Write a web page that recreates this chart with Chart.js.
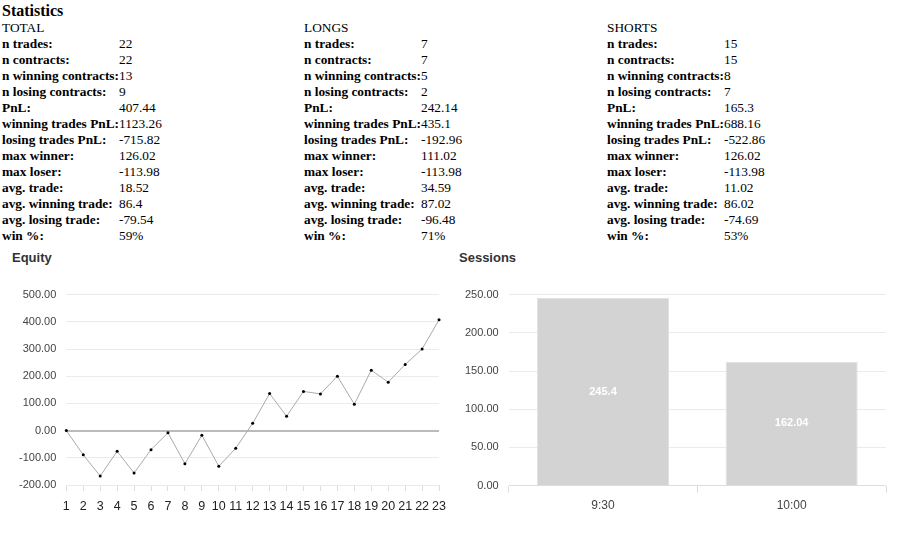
<!DOCTYPE html>
<html>
<head>
<meta charset="utf-8">
<script src="https://cdn.jsdelivr.net/npm/chart.js@4"></script>
<style>
  body { margin: 0; background: #fff; width: 917px; height: 556px; overflow: hidden; position: relative; }
  #statsTitle { position: absolute; left: 2px; top: 2px; font: bold 16px "Liberation Serif", serif; line-height: 18px; color: #000; }
  .col { position: absolute; top: 20px; font: 13.33px "Liberation Serif", serif; line-height: 16px; color: #000; }
  .col table { border-collapse: collapse; border-spacing: 0; }
  .col td { padding: 0; line-height: 16px; white-space: nowrap; }
  .col td.lbl { font-weight: bold; }
  .chartTitle { position: absolute; top: 250px; font: bold 13px "Liberation Sans", Arial, sans-serif; color: #333; line-height: 16px; }
  canvas { position: absolute; }
</style>
</head>
<body>
<div id="statsTitle">Statistics</div>
<div class="col" id="colTotal" style="left:2px"></div>
<div class="col" id="colLongs" style="left:304px"></div>
<div class="col" id="colShorts" style="left:607px"></div>

<div class="chartTitle" style="left:12px">Equity</div>
<div class="chartTitle" style="left:459px">Sessions</div>
<div style="position:absolute;left:0;top:278px;width:454px;height:246px"><canvas id="equity"></canvas></div>
<div style="position:absolute;left:450px;top:278px;width:467px;height:242px"><canvas id="sessions"></canvas></div>

<script>
// stats tables
let statLabels = ["n trades:", "n contracts:", "n winning contracts:", "n losing contracts:", "PnL:",
    "winning trades PnL:", "losing trades PnL:", "max winner:", "max loser:", "avg. trade:",
    "avg. winning trade:", "avg. losing trade:", "win %:"];
let totalValues  = ["22", "22", "13", "9", "407.44", "1123.26", "-715.82", "126.02", "-113.98", "18.52", "86.4", "-79.54", "59%"];
let longsValues  = ["7", "7", "5", "2", "242.14", "435.1", "-192.96", "111.02", "-113.98", "34.59", "87.02", "-96.48", "71%"];
let shortsValues = ["15", "15", "8", "7", "165.3", "688.16", "-522.86", "126.02", "-113.98", "11.02", "86.02", "-74.69", "53%"];

// equity curve
let equityLabels = ["1","2","3","4","5","6","7","8","9","10","11","12","13","14","15","16","17","18","19","20","21","22","23"];
let equityValues = [0, -89, -167, -76, -156, -70, -8, -122, -17, -131, -65, 27, 136, 53, 144, 135, 200, 97, 222, 178, 243, 300, 407.44];
let equityTicks = [-200, -100, 0, 100, 200, 300, 400, 500];

// sessions
let sessionLabels = ["9:30", "10:00"];
let sessionValues = [245.4, 162.04];
let sessionTicks = [0, 50, 100, 150, 200, 250];

function fillCol(id, title, values){
    let html = "<div>" + title + "</div><table>";
    for (let i = 0; i < statLabels.length; i++) {
        html += "<tr><td class='lbl'>" + statLabels[i] + "</td><td>" + values[i] + "</td></tr>";
    }
    html += "</table>";
    document.getElementById(id).innerHTML = html;
}
fillCol("colTotal", "TOTAL", totalValues);
fillCol("colLongs", "LONGS", longsValues);
fillCol("colShorts", "SHORTS", shortsValues);

Chart.defaults.font.family = '"Liberation Sans", Arial, sans-serif';
Chart.defaults.animation = false;

let equityChart = new Chart(document.getElementById("equity"), {
    type: "line",
    data: {
        labels: equityLabels,
        datasets: [{
            data: equityValues,
            borderColor: "#aaaaaa",
            borderWidth: 1,
            pointRadius: 1.5,
            pointBackgroundColor: "#000",
            pointBorderWidth: 0,
            tension: 0
        }]
    },
    options: {
        responsive: true,
        maintainAspectRatio: false,
        layout: { padding: { left: 9, right: 0, top: 5, bottom: 2 } },
        plugins: { legend: { display: false }, tooltip: { enabled: false } },
        scales: {
            x: {
                offset: false,
                grid: { drawOnChartArea: false, drawTicks: true, tickLength: 6, color: "#dddddd" },
                border: { display: false },
                ticks: { color: "#222", font: { size: 12.5 }, padding: 8, maxRotation: 0, autoSkip: false }
            },
            y: {
                min: -200, max: 500,
                afterBuildTicks: function(axis){ axis.ticks = equityTicks.map(v => ({ value: v })); },
                grid: {
                    drawTicks: false,
                    color: ctx => ctx.tick && ctx.tick.value === 0 ? "#bbbbbb" : "#ebebeb",
                    lineWidth: ctx => ctx.tick && ctx.tick.value === 0 ? 2 : 1
                },
                border: { display: false },
                ticks: { color: "#444", font: { size: 11 }, padding: 10, callback: v => v.toFixed(2) }
            }
        }
    }
});

let barLabelPlugin = {
    id: "barLabels",
    afterDatasetsDraw(chart){
        let ctx = chart.ctx;
        let meta = chart.getDatasetMeta(0);
        ctx.save();
        ctx.fillStyle = "#fff";
        ctx.font = 'bold 11px "Liberation Sans", Arial, sans-serif';
        ctx.textAlign = "center";
        ctx.textBaseline = "middle";
        meta.data.forEach(function(bar, i){
            ctx.fillText(String(sessionValues[i]), bar.x, (bar.y + bar.base) / 2);
        });
        ctx.restore();
    }
};

let sessionsChart = new Chart(document.getElementById("sessions"), {
    type: "bar",
    data: {
        labels: sessionLabels,
        datasets: [{
            data: sessionValues,
            backgroundColor: "#d3d3d3",
            borderColor: "#e2e2e2",
            borderWidth: 1,
            barPercentage: 0.7,
            categoryPercentage: 1
        }]
    },
    options: {
        responsive: true,
        maintainAspectRatio: false,
        layout: { padding: { left: 5, right: 31, top: 6, bottom: 1 } },
        plugins: { legend: { display: false }, tooltip: { enabled: false } },
        scales: {
            x: {
                grid: { drawOnChartArea: false, drawTicks: true, tickLength: 7, color: "#dddddd", offset: true },
                border: { display: false },
                ticks: { color: "#444", font: { size: 12 }, padding: 6 }
            },
            y: {
                min: 0, max: 250,
                afterBuildTicks: function(axis){ axis.ticks = sessionTicks.map(v => ({ value: v })); },
                grid: { drawTicks: false, color: ctx => ctx.tick && ctx.tick.value === 0 ? "#dddddd" : "#ebebeb" },
                border: { display: false },
                ticks: { color: "#444", font: { size: 11 }, padding: 10, callback: v => v.toFixed(2) }
            }
        }
    },
    plugins: [barLabelPlugin]
});
</script>
</body>
</html>
